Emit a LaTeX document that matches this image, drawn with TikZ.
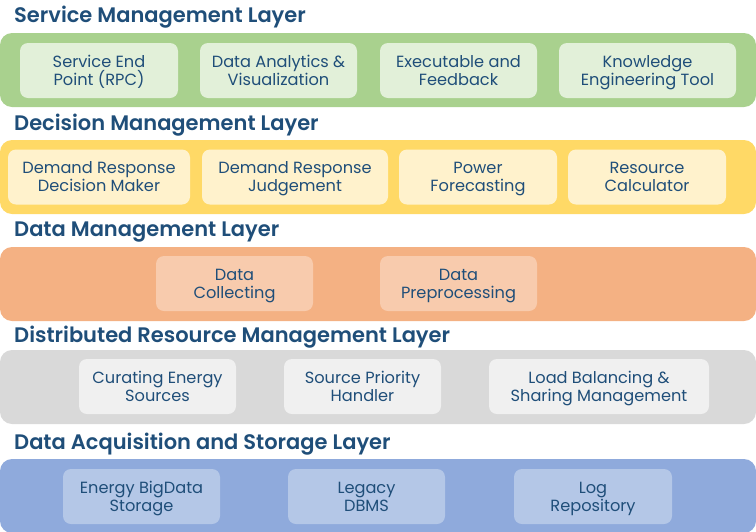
\documentclass[tikz,border=0pt]{standalone}
\usepackage{fontspec}
\setmainfont{Poppins}[BoldFont={Poppins SemiBold}]
\definecolor{txt}{HTML}{1F4E79}
\definecolor{gband}{HTML}{A9D18E}
\definecolor{gbox}{HTML}{E2F0D9}
\definecolor{yband}{HTML}{FFD966}
\definecolor{ybox}{HTML}{FFF2CC}
\definecolor{oband}{HTML}{F4B183}
\definecolor{obox}{HTML}{F8CBAD}
\definecolor{kband}{HTML}{D9D9D9}
\definecolor{kbox}{HTML}{F0F0F0}
\definecolor{bband}{HTML}{8FAADC}
\definecolor{bbox}{HTML}{B4C7E7}
\newcommand{\mystrut}{\rule[-3.5pt]{0pt}{18pt}}
\newcommand{\twolines}[2]{\mystrut\smash{#1}\\\mystrut\smash{#2}}
\tikzset{
  band/.style={rounded corners=12pt, inner sep=0pt, outer sep=0pt, minimum width=756pt, minimum height=74pt},
  ibox/.style={rounded corners=8pt, inner sep=0pt, outer sep=0pt, align=center, text=txt,
    font=\fontsize{16.2pt}{18pt}\selectfont, minimum height=55pt},
  ltitle/.style={anchor=base west, inner sep=0pt, text=txt, font=\fontsize{21pt}{24pt}\selectfont\bfseries}
}
\begin{document}
\begin{tikzpicture}[x=1pt,y=-1pt]
\useasboundingbox (0,0) rectangle (756,531);
% layer titles
\node[ltitle] (t1) at (14,22.5) {Service Management Layer};
\node[ltitle] (t2) at (14,130) {Decision Management Layer};
\node[ltitle] (t3) at (14,236.5) {Data Management Layer};
\node[ltitle] (t4) at (14,342.5) {Distributed Resource Management Layer};
\node[ltitle] (t5) at (14,449) {Data Acquisition and Storage Layer};
% bands
\node[band, fill=gband] (b1) at (378,70) {};
\node[band, fill=yband] (b2) at (378,177) {};
\node[band, fill=oband] (b3) at (378,284) {};
\node[band, fill=kband] (b4) at (378,387) {};
\node[band, fill=bband] (b5) at (378,496) {};
% service
\node[ibox, fill=gbox, minimum width=158pt] (s1) at (99,70.5) {\twolines{Service End}{Point (RPC)}};
\node[ibox, fill=gbox, minimum width=157pt] (s2) at (278.5,70.5) {\twolines{Data Analytics \&}{Visualization}};
\node[ibox, fill=gbox, minimum width=157pt] (s3) at (458.5,70.5) {\twolines{Executable and}{Feedback}};
\node[ibox, fill=gbox, minimum width=177pt] (s4) at (647.5,70.5) {\twolines{Knowledge}{Engineering Tool}};
% decision
\node[ibox, fill=ybox, minimum width=182pt] (d1) at (99,177) {\twolines{Demand Response}{Decision Maker}};
\node[ibox, fill=ybox, minimum width=186pt] (d2) at (295,177) {\twolines{Demand Response}{Judgement}};
\node[ibox, fill=ybox, minimum width=158pt] (d3) at (478,177) {\twolines{Power}{Forecasting}};
\node[ibox, fill=ybox, minimum width=158pt] (d4) at (647,177) {\twolines{Resource}{Calculator}};
% data management
\node[ibox, fill=obox, minimum width=157pt] (m1) at (234.5,283.5) {\twolines{Data}{Collecting}};
\node[ibox, fill=obox, minimum width=157pt] (m2) at (458.5,283.5) {\twolines{Data}{Preprocessing}};
% distributed
\node[ibox, fill=kbox, minimum width=157pt] (r1) at (157.5,386.5) {\twolines{Curating Energy}{Sources}};
\node[ibox, fill=kbox, minimum width=157pt] (r2) at (362.5,386.5) {\twolines{Source Priority}{Handler}};
\node[ibox, fill=kbox, minimum width=220pt] (r3) at (599,386.5) {\twolines{Load Balancing \&}{Sharing Management}};
% acquisition
\node[ibox, fill=bbox, minimum width=157pt] (a1) at (141.5,496.5) {\twolines{Energy BigData}{Storage}};
\node[ibox, fill=bbox, minimum width=157pt] (a2) at (366.5,496.5) {\twolines{Legacy}{DBMS}};
\node[ibox, fill=bbox, minimum width=158pt] (a3) at (593,496.5) {\twolines{Log}{Repository}};
\end{tikzpicture}
\end{document}
